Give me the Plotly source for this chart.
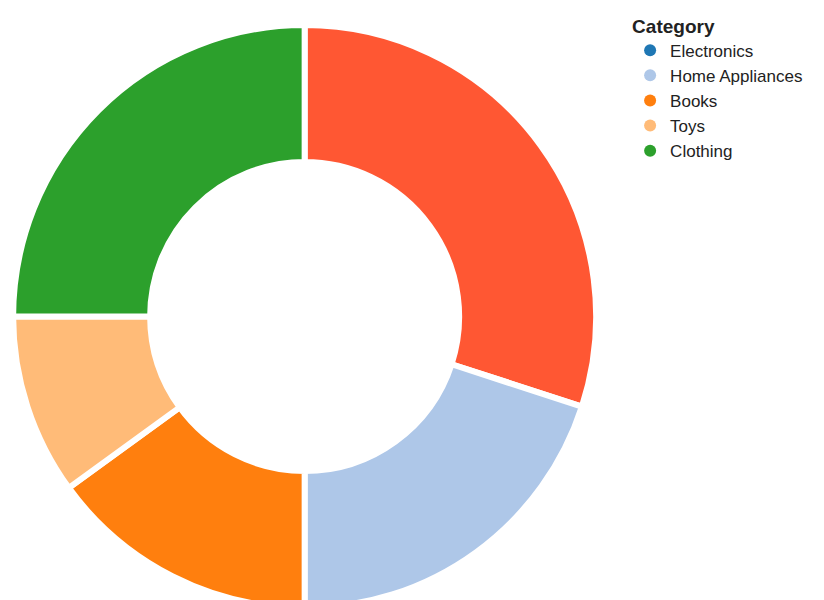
import plotly.graph_objects as go

categories = ["Electronics", "Home Appliances", "Books", "Toys", "Clothing"]
values = [30, 20, 15, 10, 25]
legend_colors = ["#1f77b4", "#aec7e8", "#ff7f0e", "#ffbb78", "#2ca02c"]
slice_colors = ["#ff5733", "#aec7e8", "#ff7f0e", "#ffbb78", "#2ca02c"]

fig = go.Figure()
fig.add_trace(go.Pie(labels=categories, values=values, hole=0.53, sort=False,
                     direction="clockwise", rotation=0, textinfo="none",
                     marker=dict(colors=slice_colors, line=dict(color="white", width=6)),
                     showlegend=False, domain=dict(x=[0, 0.72], y=[0, 1])))
# legend entries with circle symbols
for cat, col in zip(categories, legend_colors):
    fig.add_trace(go.Scatter(x=[None], y=[None], mode="markers", name=cat,
                             marker=dict(color=col, size=18, symbol="circle")))

fig.update_xaxes(visible=False)
fig.update_yaxes(visible=False)
fig.update_layout(width=824, height=600, margin=dict(l=0, r=0, t=0, b=0),
                  paper_bgcolor="white", plot_bgcolor="white",
                  font=dict(family="Liberation Sans, Arial", size=17, color="#222"),
                  legend=dict(title=dict(text="<b>Category</b>", font=dict(size=19)),
                              x=0.755, y=1.03, xanchor="left", yanchor="top",
                              tracegroupgap=0, itemsizing="constant"))
fig.write_html("out.html")
